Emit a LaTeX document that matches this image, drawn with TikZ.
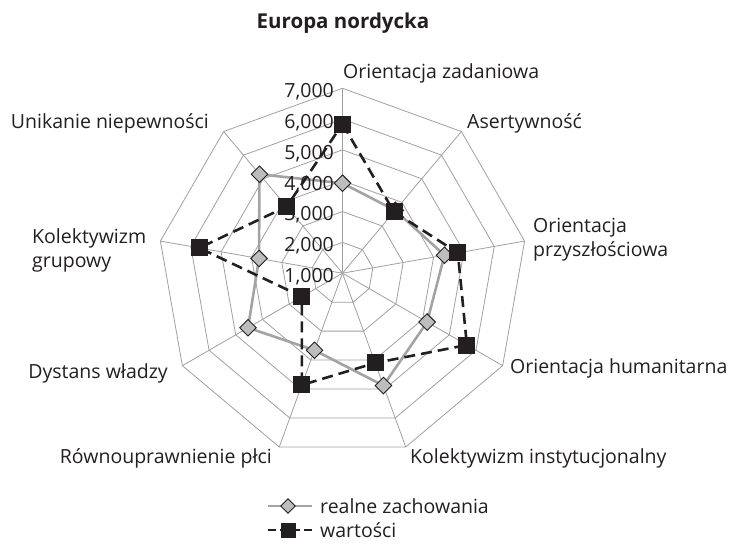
\documentclass[tikz,border=0pt]{standalone}
\usepackage{fontspec}
\setmainfont{Open Sans}
\usetikzlibrary{shapes.geometric,calc}
\definecolor{gridgray}{HTML}{A0A0A0}
\definecolor{linegray}{HTML}{A3A3A3}
\definecolor{markgray}{HTML}{BDBDBD}
\definecolor{ink}{HTML}{231F20}
\tikzset{
  gridline/.style={draw=gridgray, line width=0.8pt},
  realline/.style={draw=linegray, line width=2.6pt, line join=round},
  valline/.style={draw=ink, line width=2.6pt, dash pattern=on 11pt off 6pt},
  diam/.style={diamond, draw=ink, fill=markgray, line width=0.9pt, inner sep=0pt, minimum width=17pt, minimum height=17pt},
  sq/.style={rectangle, fill=ink, inner sep=0pt, minimum size=17pt},
  lsq/.style={rectangle, fill=ink, inner sep=0pt, minimum size=15pt},
  ldiam/.style={diamond, draw=ink, fill=markgray, line width=0.9pt, inner sep=0pt, minimum width=15pt, minimum height=15pt},
  axlabel/.style={font=\fontsize{19.5}{24}\selectfont, text=ink, inner sep=0pt},
  ticklabel/.style={font=\fontsize{19.5}{24}\selectfont, text=ink, inner sep=0pt, anchor=east},
  titlelabel/.style={font=\bfseries\fontsize{20.5}{24}\selectfont, text=ink, inner sep=0pt}
}
\begin{document}
\begin{tikzpicture}[x=1pt,y=1pt]
\useasboundingbox (0,0) rectangle (730,543);
\def\u{30.82}
\coordinate (C) at (342.5,269.8);
% grid rings
\foreach \k in {1,...,6}{
  \draw[gridline] ([shift={(90:\k*\u)}]C)
    \foreach \i in {1,...,8}{ -- ([shift={(90-40*\i:\k*\u)}]C) } -- cycle;
}
% spokes
\foreach \i in {0,...,8}{
  \coordinate (s\i) at ([shift={(90-40*\i:6*\u)}]C);
  \draw[gridline] (C) -- (s\i);
}
% data coordinates
\foreach \v [count=\i from 0] in {3.92,3.66,4.36,4.17,4.88,3.66,4.54,3.75,5.19}{
  \coordinate (p\i) at ([shift={(90-40*\i:{(\v-1)*\u})}]C);
}
\foreach \v [count=\i from 0] in {5.84,3.6,4.8,5.66,4.1,4.86,2.52,5.72,3.82}{
  \coordinate (q\i) at ([shift={(90-40*\i:{(\v-1)*\u})}]C);
}
\draw[realline] (p0) -- (p1) -- (p2) -- (p3) -- (p4) -- (p5) -- (p6) -- (p7) -- (p8) -- cycle;
\foreach \i in {0,...,8}{ \node[diam] (dm\i) at (p\i) {}; }
\draw[valline] (q0) -- (q1) -- (q2) -- (q3) -- (q4) -- (q5) -- (q6) -- (q7) -- (q8) -- cycle;
\foreach \i in {0,...,8}{ \node[sq] (sm\i) at (q\i) {}; }
% tick labels
\foreach \v in {1,...,7}{
  \node[ticklabel] (t\v) at (334, {269.8+(\v-1)*\u-3.5}) {\v,000};
}
% title
\node[titlelabel] (title) at (343,520) {Europa nordycka};
% axis labels
\node[axlabel, anchor=west] (l0) at (343,470) {Orientacja zadaniowa};
\node[axlabel, anchor=west] (l1) at (467,420) {Asertywność};
\node[axlabel, anchor=west, align=left] (l2) at (533,303) {Orientacja\\przyszłościowa};
\node[axlabel, anchor=west] (l3) at (510,175) {Orientacja humanitarna};
\node[axlabel, anchor=west] (l4) at (410,85) {Kolektywizm instytucjonalny};
\node[axlabel, anchor=east] (l5) at (272,85) {Równouprawnienie płci};
\node[axlabel, anchor=east] (l6) at (168,170) {Dystans władzy};
\node[axlabel, anchor=west, align=left] (l7) at (32,292.5) {Kolektywizm\\grupowy};
\node[axlabel, anchor=east] (l8) at (209,420) {Unikanie niepewności};
% legend
\coordinate (la) at (268,37);
\coordinate (lb) at (312,37);
\draw[draw=linegray, line width=2.2pt] (la) -- (lb);
\node[ldiam] (ld) at (288,37) {};
\node[axlabel, anchor=west] (lt1) at (320,37) {realne zachowania};
\coordinate (lc) at (268,13);
\coordinate (ldd) at (312,13);
\draw[valline, dash pattern=on 8pt off 4pt] (lc) -- (ldd);
\node[lsq] (ls) at (288,13) {};
\node[axlabel, anchor=west] (lt2) at (320,13) {wartości};
\end{tikzpicture}
\end{document}
